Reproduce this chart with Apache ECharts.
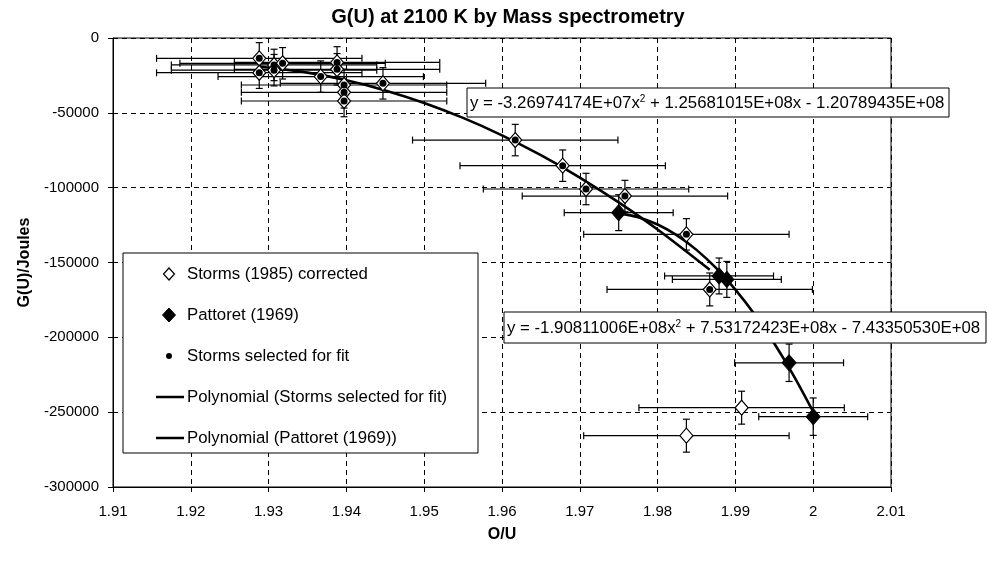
<!DOCTYPE html>
<html>
<head>
<meta charset="utf-8">
<script src="https://cdn.jsdelivr.net/npm/echarts@6/dist/echarts.min.js"></script>
<style>html,body{margin:0;padding:0;background:#fff}#c{width:987px;height:562px}</style>
</head>
<body>
<div id="c"></div>
<script>
// ---- Data ----
const xMin = 1.91, xMax = 2.01, xStep = 0.01;
const yMin = -300000, yMax = 0, yStep = 50000;

// Storms (1985) corrected
const stormsX = [1.9288, 1.9288, 1.9307, 1.9307, 1.9318, 1.9367, 1.9388, 1.9388, 1.9397, 1.9397, 1.9397, 1.9447, 1.9617, 1.9678, 1.9708, 1.9758, 1.9837, 1.9867, 1.9908, 1.9837];
const stormsY = [-13600, -23200, -18000, -21500, -16900, -25800, -16300, -20900, -31400, -36300, -42100, -30300, -68200, -85300, -100900, -105600, -131200, -168000, -247000, -265700];
const stormsXErr = [0.0132, 0.0132, 0.0132, 0.0132, 0.0132, 0.0132, 0.0132, 0.0132, 0.0132, 0.0132, 0.0132, 0.0132, 0.0132, 0.0132, 0.0132, 0.0132, 0.0132, 0.0132, 0.0132, 0.0132];
const stormsYErr = [10500, 10500, 10500, 10500, 10500, 10500, 10500, 10500, 10500, 10500, 10500, 10500, 10500, 10500, 10500, 10500, 10500, 11000, 11000, 11000];

// Storms selected for fit (dots)
const selX = [1.9288, 1.9288, 1.9307, 1.9307, 1.9318, 1.9367, 1.9388, 1.9388, 1.9397, 1.9397, 1.9397, 1.9447, 1.9617, 1.9678, 1.9708, 1.9758, 1.9837, 1.9867];
const selY = [-13600, -23200, -18000, -21500, -16900, -25800, -16300, -20900, -31400, -36300, -42100, -30300, -68200, -85300, -100900, -105600, -131200, -168000];

// Pattoret (1969)
const pattX = [1.9750, 1.9879, 1.9889, 1.9969, 2.0000];
const pattY = [-116700, -159000, -161300, -217000, -253000];
const pattXErr = [0.007, 0.007, 0.007, 0.007, 0.007];
const pattYErr = [12000, 12000, 12000, 12500, 12500];

// Polynomial trendlines
const stormsFitX = [1.9288, 1.935, 1.94, 1.945, 1.95, 1.955, 1.96, 1.965, 1.97, 1.975, 1.98, 1.9867];
const stormsFitY = [-19095, -23157, -28265, -35007, -43384, -53396, -65043, -78324, -93241, -109792, -127979, -154912];
const pattFitX = [1.975, 1.9775, 1.98, 1.9825, 1.985, 1.9875, 1.99, 1.9925, 1.995, 1.9975, 2.0];
const pattFitY = [-117174, -119697, -124601, -131892, -141566, -153627, -168073, -184903, -204120, -225710, -249708];

const eqStorms = 'y = -3.26974174E+07x{sup|2} + 1.25681015E+08x - 1.20789435E+08';
const eqPatt = 'y = -1.90811006E+08x{sup|2} + 7.53172423E+08x - 7.43350530E+08';
const legendLabels = ['Storms (1985) corrected', 'Pattoret (1969)', 'Storms selected for fit', 'Polynomial (Storms selected for fit)', 'Polynomial (Pattoret (1969))'];

// ---- Chart ----
const FONT = '"Liberation Sans", Arial, Helvetica, sans-serif';
const zip = (a, b) => a.map((v, i) => [v, b[i]]);
const zip4 = (a, b, c, d) => a.map((v, i) => [v, b[i], c[i], d[i]]);

function errRender(params, api) {
  const x = api.value(0), y = api.value(1), ex = api.value(2), ey = api.value(3);
  const l = api.coord([x - ex, y]), r = api.coord([x + ex, y]);
  const t = api.coord([x, y + ey]), b = api.coord([x, y - ey]);
  const c = 3.5;
  const st = { stroke: '#000', lineWidth: 1.2, fill: null };
  return {
    type: 'group',
    children: [
      { type: 'line', shape: { x1: l[0], y1: l[1], x2: r[0], y2: r[1] }, style: st },
      { type: 'line', shape: { x1: l[0], y1: l[1] - c, x2: l[0], y2: l[1] + c }, style: st },
      { type: 'line', shape: { x1: r[0], y1: r[1] - c, x2: r[0], y2: r[1] + c }, style: st },
      { type: 'line', shape: { x1: t[0], y1: t[1], x2: b[0], y2: b[1] }, style: st },
      { type: 'line', shape: { x1: t[0] - c, y1: t[1], x2: t[0] + c, y2: t[1] }, style: st },
      { type: 'line', shape: { x1: b[0] - c, y1: b[1], x2: b[0] + c, y2: b[1] }, style: st }
    ]
  };
}

const chart = echarts.init(document.getElementById('c'), null, { renderer: 'canvas' });

const ZG = 100;
// legend graphic
const LX = 123, LY = 253, LW = 355, LH = 200;
const rowY = [274, 315, 356, 397, 438];
const iconX = 169, textX = 187;
const legendGraphic = [
  { type: 'rect', z: ZG, shape: { x: LX, y: LY, width: LW, height: LH }, style: { fill: '#fff', stroke: '#000', lineWidth: 1 } },
  { type: 'polygon', z: ZG + 1, shape: { points: [[iconX, rowY[0] - 6], [iconX + 5.5, rowY[0]], [iconX, rowY[0] + 6], [iconX - 5.5, rowY[0]]] }, style: { fill: '#fff', stroke: '#000', lineWidth: 1.2 } },
  { type: 'polygon', z: ZG + 1, shape: { points: [[iconX, rowY[1] - 7], [iconX + 6.5, rowY[1]], [iconX, rowY[1] + 7], [iconX - 6.5, rowY[1]]] }, style: { fill: '#000', stroke: '#000', lineWidth: 1 } },
  { type: 'circle', z: ZG + 1, shape: { cx: iconX, cy: rowY[2], r: 3 }, style: { fill: '#000' } },
  { type: 'line', z: ZG + 1, shape: { x1: 156, y1: rowY[3], x2: 184, y2: rowY[3] }, style: { stroke: '#000', lineWidth: 2.5 } },
  { type: 'line', z: ZG + 1, shape: { x1: 156, y1: rowY[4], x2: 184, y2: rowY[4] }, style: { stroke: '#000', lineWidth: 2.5 } }
];
legendLabels.forEach((s, i) => {
  legendGraphic.push({ type: 'text', z: ZG + 1, x: textX, y: rowY[i], style: { text: s, font: '16.8px ' + FONT, fill: '#000', verticalAlign: 'middle', align: 'left' } });
});

function eqBox(x, y, w, h, txt) {
  return [
    { type: 'rect', z: ZG, shape: { x: x, y: y, width: w, height: h }, style: { fill: '#fff', stroke: '#000', lineWidth: 1 } },
    { type: 'text', z: ZG + 1, x: x + 3, y: y + h / 2 + 1, style: { text: txt, font: '16.8px ' + FONT, fill: '#000', verticalAlign: 'middle', align: 'left',
      rich: { sup: { fontSize: 10, verticalAlign: 'top', padding: [0, 0, 9, 0], fontFamily: FONT } } } }
  ];
}

const option = {
  animation: false,
  backgroundColor: '#fff',
  title: {
    text: 'G(U) at 2100 K by Mass spectrometry',
    left: 503, textAlign: 'center', top: 2,
    textStyle: { fontFamily: FONT, fontSize: 20, fontWeight: 'bold', color: '#000' }
  },
  grid: { left: 113, right: 96, top: 38, bottom: 75, show: true, borderColor: '#000', borderWidth: 1, backgroundColor: 'transparent' },
  xAxis: {
    type: 'value', min: xMin, max: xMax, interval: xStep,
    name: 'O/U', nameLocation: 'middle', nameGap: 40,
    nameTextStyle: { fontFamily: FONT, fontSize: 16, fontWeight: 'bold', color: '#000' },
    axisLine: { show: true, onZero: false, lineStyle: { color: '#000', width: 1 } },
    axisTick: { show: true, inside: false, length: 5, lineStyle: { color: '#000' } },
    axisLabel: { fontFamily: FONT, fontSize: 15, color: '#000', margin: 17, formatter: v => String(parseFloat(v.toFixed(2))) },
    splitLine: { show: true, lineStyle: { color: '#000', type: [5, 4], width: 1 } }
  },
  yAxis: {
    type: 'value', min: yMin, max: yMax, interval: yStep,
    name: 'G(U)/Joules', nameLocation: 'middle', nameGap: 71,
    nameTextStyle: { fontFamily: FONT, fontSize: 16, fontWeight: 'bold', color: '#000' },
    axisLine: { show: true, onZero: false, lineStyle: { color: '#000', width: 1 } },
    axisTick: { show: true, inside: false, length: 5, lineStyle: { color: '#000' } },
    axisLabel: { fontFamily: FONT, fontSize: 15, color: '#000', margin: 14, formatter: v => String(v) },
    splitLine: { show: true, lineStyle: { color: '#000', type: [5, 4], width: 1 } }
  },
  series: [
    { type: 'custom', name: 'Storms err', renderItem: errRender, encode: { x: 0, y: 1 }, data: zip4(stormsX, stormsY, stormsXErr, stormsYErr), z: 2, silent: true },
    { type: 'custom', name: 'Pattoret err', renderItem: errRender, encode: { x: 0, y: 1 }, data: zip4(pattX, pattY, pattXErr, pattYErr), z: 2, silent: true },
    { type: 'line', name: legendLabels[3], data: zip(stormsFitX, stormsFitY), showSymbol: false, smooth: 0.3, lineStyle: { color: '#000', width: 2.6 }, z: 3 },
    { type: 'line', name: legendLabels[4], data: zip(pattFitX, pattFitY), showSymbol: false, smooth: 0.3, lineStyle: { color: '#000', width: 2.6 }, z: 3 },
    { type: 'scatter', name: legendLabels[0], data: zip(stormsX, stormsY), symbol: 'diamond', symbolSize: [13, 15], itemStyle: { color: '#fff', borderColor: '#000', borderWidth: 1.2, opacity: 1 }, z: 4 },
    { type: 'scatter', name: legendLabels[1], data: zip(pattX, pattY), symbol: 'diamond', symbolSize: [14, 16], itemStyle: { color: '#000', borderColor: '#000', borderWidth: 1, opacity: 1 }, z: 5 },
    { type: 'scatter', name: legendLabels[2], data: zip(selX, selY), symbol: 'circle', symbolSize: 7, itemStyle: { color: '#000', opacity: 1 }, z: 6 }
  ],
  graphic: eqBox(467, 88, 482, 29, eqStorms).concat(eqBox(504, 312, 482, 31, eqPatt)).concat(legendGraphic)
};
chart.setOption(option);
</script>
</body>
</html>
